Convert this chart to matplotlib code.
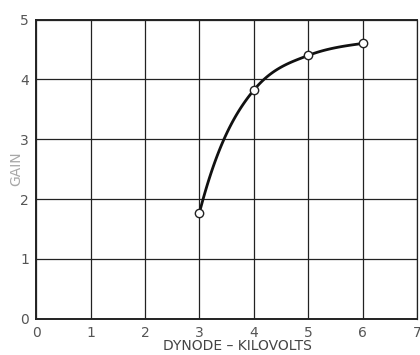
import numpy as np
import matplotlib
matplotlib.use("Agg")
import matplotlib.pyplot as plt

# ── Data ──────────────────────────────────────────────────────────────────────
dynode_kv = [3, 4, 5, 6]
gain = [1.77, 3.82, 4.40, 4.60]
# hand-drawn curve slopes at each point
slopes = [3.5, 1.1, 0.35, 0.12]

x_ticks = [0, 1, 2, 3, 4, 5, 6, 7]
y_ticks = [0, 1, 2, 3, 4, 5]

INK = "#222222"
LABEL_GRAY = "#a8a8a8"


def hermite_curve(xs, ys, ms, n=40):
    """Cubic Hermite curve through the measured points (drawing only)."""
    out_x, out_y = [], []
    t = np.linspace(0, 1, n)
    for i in range(len(xs) - 1):
        h = xs[i + 1] - xs[i]
        h00 = 2 * t ** 3 - 3 * t ** 2 + 1
        h10 = t ** 3 - 2 * t ** 2 + t
        h01 = -2 * t ** 3 + 3 * t ** 2
        h11 = t ** 3 - t ** 2
        out_x.append(xs[i] + h * t)
        out_y.append(h00 * ys[i] + h10 * h * ms[i] + h01 * ys[i + 1] + h11 * h * ms[i + 1])
    return np.concatenate(out_x), np.concatenate(out_y)


fig = plt.figure(figsize=(4.2, 3.55), dpi=100)
ax = fig.add_axes([0.086, 0.102, 0.907, 0.843])

ax.set_xlim(0, 7)
ax.set_ylim(0, 5)
ax.set_xticks(x_ticks)
ax.set_yticks(y_ticks)
ax.grid(True, color=INK, linewidth=0.9)
ax.set_axisbelow(True)
ax.tick_params(length=0, labelsize=10, labelcolor="#555555", pad=5)

for side in ["left", "bottom", "top"]:
    ax.spines[side].set_linewidth(1.4)
    ax.spines[side].set_color(INK)
ax.spines["right"].set_linewidth(0.9)
ax.spines["right"].set_color(INK)

cx, cy = hermite_curve(dynode_kv, gain, slopes)
ax.plot(cx, cy, color="#111111", linewidth=2.0, zorder=3)
ax.plot(dynode_kv, gain, linestyle="none", marker="o", markersize=6,
        markerfacecolor="white", markeredgecolor=INK, markeredgewidth=1.0,
        zorder=4)

ax.set_xlabel("DYNODE – KILOVOLTS", fontsize=10, color="#444444")
ax.set_ylabel("GAIN", fontsize=10, color=LABEL_GRAY)
ax.xaxis.set_label_coords(0.528, -0.068)
ax.yaxis.set_label_coords(-0.035, 0.5)

fig.savefig("out.png", dpi=100)
